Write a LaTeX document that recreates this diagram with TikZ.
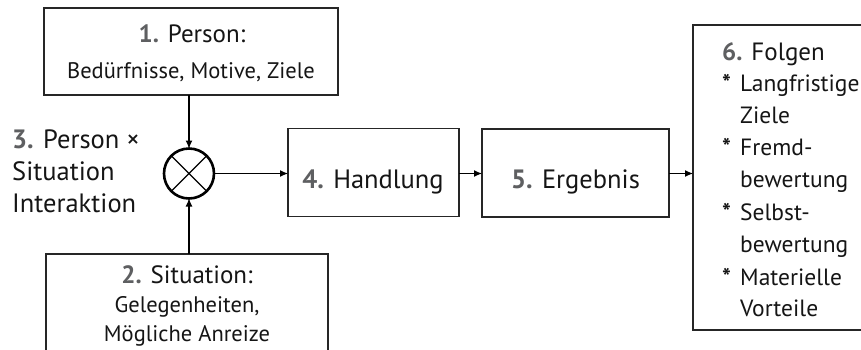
\documentclass[tikz,border=0pt]{standalone}
\usepackage{fontspec}
\setmainfont{PT Sans}
\usetikzlibrary{arrows.meta}
\definecolor{numgray}{HTML}{5E5F61}
\definecolor{txtblack}{HTML}{151515}
\newcommand{\nr}[1]{{\bfseries\color{numgray}#1}}
\begin{document}
\begin{tikzpicture}[x=1pt,y=-1pt,
  box/.style={draw=black!85, line width=1.3pt, inner sep=0pt, outer sep=0pt},
  arr/.style={-{Latex[length=8pt,width=7pt]}, line width=1.1pt},
  huge/.style={inner sep=0pt, text=txtblack, font=\fontsize{26.5}{30}\selectfont},
  big/.style={inner sep=0pt, text=txtblack, font=\fontsize{25}{28}\selectfont},
  mid/.style={inner sep=0pt, text=txtblack, font=\fontsize{23.5}{28}\selectfont},
  small/.style={inner sep=0pt, text=txtblack, font=\fontsize{22.5}{26}\selectfont}]
\useasboundingbox (0,0) rectangle (861,349);
\clip (0,0) rectangle (861,349);
% boxes
\node[box, minimum width=294pt, minimum height=87pt] (b1) at (191,51.5) {};
\node[box, minimum width=282pt, minimum height=116pt] (b2) at (187,312) {};
\node[draw, circle, line width=2.6pt, minimum size=50pt, inner sep=0pt, outer sep=0pt] (c) at (189,173.5) {};
\node[box, minimum width=171pt, minimum height=88pt] (b4) at (373.5,172.5) {};
\node[box, minimum width=187pt, minimum height=88pt] (b5) at (575.5,173) {};
\node[box, minimum width=207pt, minimum height=305pt] (b6) at (796.5,177.5) {};
% cross
\draw[line width=1.2pt] (c.45) -- (c.225) (c.135) -- (c.315);
% arrows
\draw[arr] (c.north |- b1.south) -- (c.north);
\draw[arr] (c.south |- b2.north) -- (c.south);
\draw[arr] (c.east) -- (c.east -| b4.west);
\draw[arr] (b4.east |- c.east) -- (c.east -| b5.west);
\draw[arr] (b5.east |- c.east) -- (c.east -| b6.west);
% texts
\node[big, anchor=base] (t1) at (192,42) {\nr{1.} Person:};
\node[small, anchor=base] (t1b) at (191,78) {Bedürfnisse, Motive, Ziele};
\node[big, anchor=base] (t2) at (187,283) {\nr{2.} Situation:};
\node[small, anchor=base] (t2b) at (187,312) {Gelegenheiten,};
\node[small, anchor=base] (t2c) at (187,341) {Mögliche Anreize};
\node[huge, anchor=base west] (t3a) at (12,148) {\nr{3.} Person ×};
\node[huge, anchor=base west] (t3b) at (12,180) {Situation};
\node[huge, anchor=base west] (t3c) at (12,212) {Interaktion};
\node[huge, anchor=base] (t4) at (373,188) {\nr{4.} Handlung};
\node[huge, anchor=base] (t5) at (575.5,188) {\nr{5.} Ergebnis};
\node[big, anchor=base west] (t6) at (722,60) {\nr{6.} Folgen};
\node[mid, anchor=base west] (s1) at (722,91) {\bfseries *};
\node[mid, anchor=base west] (i1) at (740,91) {Langfristige};
\node[mid, anchor=base west] (i1b) at (740,123) {Ziele};
\node[mid, anchor=base west] (s2) at (722,155) {\bfseries *};
\node[mid, anchor=base west] (i2) at (740,155) {Fremd-};
\node[mid, anchor=base west] (i2b) at (740,187) {bewertung};
\node[mid, anchor=base west] (s3) at (722,220) {\bfseries *};
\node[mid, anchor=base west] (i3) at (740,220) {Selbst-};
\node[mid, anchor=base west] (i3b) at (740,252) {bewertung};
\node[mid, anchor=base west] (s4) at (722,285) {\bfseries *};
\node[mid, anchor=base west] (i4) at (740,285) {Materielle};
\node[mid, anchor=base west] (i4b) at (740,316) {Vorteile};
\end{tikzpicture}
\end{document}
